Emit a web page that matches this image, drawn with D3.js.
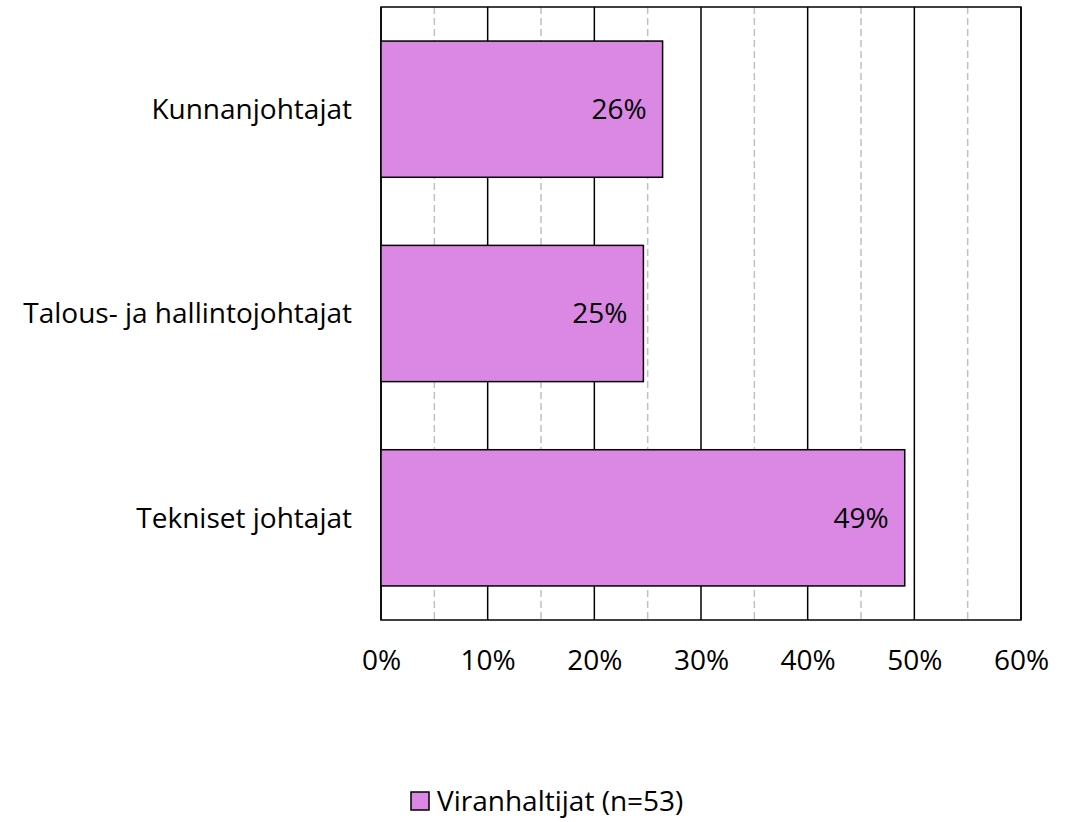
<!DOCTYPE html>
<html>
<head>
<meta charset="utf-8">
<script src="https://cdn.jsdelivr.net/npm/d3@7"></script>
<style>
  body { margin: 0; background: #fff; }
  text { font-family: "Open Sans", "Noto Sans", sans-serif; fill: #000; }
</style>
</head>
<body>
<script>
const categories = ["Kunnanjohtajat", "Talous- ja hallintojohtajat", "Tekniset johtajat"];
const values = [0.264, 0.246, 0.491];
const valueLabels = ["26%", "25%", "49%"];
const majorTicks = [0, 0.1, 0.2, 0.3, 0.4, 0.5, 0.6];
const minorTicks = [0.05, 0.15, 0.25, 0.35, 0.45, 0.55];
const seriesName = "Viranhaltijat (n=53)";

const W = 1074, H = 822;
const margin = {left: 381, right: 53, top: 7, bottom: 202};
const width = W - margin.left - margin.right;
const height = H - margin.top - margin.bottom;
const barColor = "#da88e3";
const fontSize = "28px";

const svg = d3.select("body").append("svg")
  .attr("width", W)
  .attr("height", H);

const g = svg.append("g")
  .attr("transform", `translate(${margin.left},${margin.top})`);

const x = d3.scaleLinear().domain([0, 0.6]).range([0, width]);
const y = d3.scaleBand().domain(categories).range([0, height])
  .paddingInner(1 / 3).paddingOuter(1 / 6);

// minor dashed grid
g.selectAll(".minor")
  .data(minorTicks)
  .enter().append("line")
  .attr("class", "minor")
  .attr("x1", d => x(d)).attr("x2", d => x(d))
  .attr("y1", 0).attr("y2", height)
  .attr("stroke", "#c0c0c0")
  .attr("stroke-width", 1.5)
  .attr("stroke-dasharray", "7,4");

// major grid
g.selectAll(".major")
  .data(majorTicks)
  .enter().append("line")
  .attr("class", "major")
  .attr("x1", d => x(d)).attr("x2", d => x(d))
  .attr("y1", 0).attr("y2", height)
  .attr("stroke", "#000")
  .attr("stroke-width", 1.5);

// plot border
g.append("rect")
  .attr("width", width).attr("height", height)
  .attr("fill", "none")
  .attr("stroke", "#000")
  .attr("stroke-width", 1.5);

// bars
g.selectAll(".bar")
  .data(values)
  .enter().append("rect")
  .attr("class", "bar")
  .attr("x", 0)
  .attr("y", (d, i) => y(categories[i]))
  .attr("width", d => x(d))
  .attr("height", y.bandwidth())
  .attr("fill", barColor)
  .attr("stroke", "#000")
  .attr("stroke-width", 1.5);

// value labels
g.selectAll(".val")
  .data(values)
  .enter().append("text")
  .attr("class", "val")
  .attr("x", d => x(d) - 16)
  .attr("y", (d, i) => y(categories[i]) + y.bandwidth() / 2)
  .attr("dy", "0.35em")
  .attr("text-anchor", "end")
  .style("font-size", fontSize)
  .text((d, i) => valueLabels[i]);

// category labels
const yAxis = d3.axisLeft(y).tickSize(0).tickPadding(29);
g.append("g")
  .call(yAxis)
  .call(a => a.select(".domain").remove())
  .selectAll("text")
  .style("font-size", fontSize)
  .style("font-family", "'Open Sans', 'Noto Sans', sans-serif")
  .attr("dy", "0.35em");

// x tick labels
const xAxis = d3.axisBottom(x).tickValues(majorTicks)
  .tickFormat(d3.format(".0%")).tickSize(0).tickPadding(30);
g.append("g")
  .attr("transform", `translate(0,${height})`)
  .call(xAxis)
  .call(a => a.select(".domain").remove())
  .selectAll("text")
  .style("font-size", fontSize)
  .style("font-family", "'Open Sans', 'Noto Sans', sans-serif");

// legend
const legend = svg.append("g")
  .attr("transform", "translate(411,792)");
legend.append("rect")
  .attr("width", 18).attr("height", 18)
  .attr("fill", barColor)
  .attr("stroke", "#000")
  .attr("stroke-width", 1.5);
legend.append("text")
  .attr("x", 26)
  .attr("y", 9)
  .attr("dy", "0.35em")
  .style("font-size", fontSize)
  .text(seriesName);
</script>
</body>
</html>
